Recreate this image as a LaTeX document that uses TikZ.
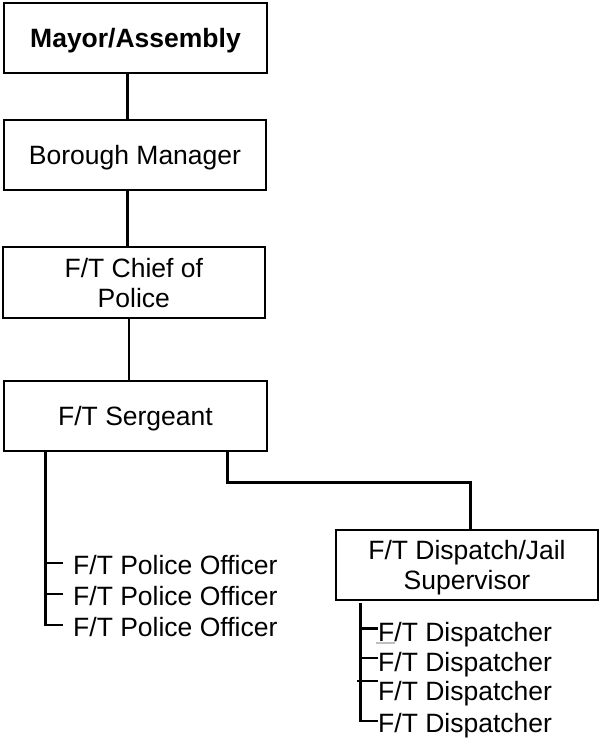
\documentclass[tikz,border=0pt]{standalone}
\usepackage{fontspec}
\setmainfont{Liberation Sans}
\begin{document}
\begin{tikzpicture}[x=1pt,y=-1pt,
  box/.style={draw=black, line width=1.7pt, rectangle, inner sep=0pt, align=center,
    text depth=0pt, minimum width=262pt, minimum height=70pt, font=\fontsize{26.5}{29.5}\selectfont},
  lbl/.style={inner sep=0pt, anchor=base west, font=\fontsize{26.5}{29.5}\selectfont},
  conn/.style={line width=3pt},
  thinconn/.style={line width=2pt},
  tick/.style={line width=2pt}]
\useasboundingbox (0,0) rectangle (599,742);
\node[box, minimum width=263pt] (mayor) at (135.5,38) {\textbf{Mayor/Assembly}};
\node[box] (borough) at (135,155) {Borough Manager};
\node[box, minimum height=71pt] (chief) at (133.8,282.8) {F/T Chief of\\Police};
\node[box, minimum width=263pt] (sergeant) at (135.5,416) {F/T Sergeant};
\node[box] (dispatch) at (467,565) {F/T Dispatch/Jail\\Supervisor};

\draw[conn] ([xshift=-8.2pt]mayor.south) -- ([xshift=-8.2pt]mayor.south |- borough.north);
\draw[conn] ([xshift=-7.7pt]borough.south) -- ([xshift=-7.7pt]borough.south |- chief.north);
\draw[thinconn] ([xshift=-4.8pt]chief.south) -- ([xshift=-4.8pt]chief.south |- sergeant.north);

% police officers
\node[lbl] (po1) at (73,574.5) {F/T Police Officer};
\node[lbl] (po2) at (73,605.5) {F/T Police Officer};
\node[lbl] (po3) at (73,636.5) {F/T Police Officer};
\coordinate (ps) at ([xshift=-89.8pt]sergeant.south);
\coordinate (pt1) at ([xshift=-10pt,yshift=12pt]po1.base west);
\coordinate (pt2) at ([xshift=-10pt,yshift=12pt]po2.base west);
\coordinate (pt3) at ([xshift=-10pt,yshift=12pt]po3.base west);
\draw[conn] (ps) -- (ps |- pt3);
\draw[tick] (pt1 -| ps) -- (pt1);
\draw[tick] (pt2 -| ps) -- (pt2);
\draw[tick] ([xshift=-1.5pt]pt3 -| ps) -- (pt3);

% sergeant to dispatch supervisor
\draw[conn] ([xshift=91.5pt]sergeant.south) -- ++(0,31) -| ([xshift=3pt]dispatch.north);

% dispatchers
\node[lbl] (d1) at (378,641.7) {F/T Dispatcher};
\node[lbl] (d2) at (378,671.7) {F/T Dispatcher};
\node[lbl] (d3) at (378,700.7) {F/T Dispatcher};
\node[lbl] (d4) at (378,732.7) {F/T Dispatcher};
\coordinate (ds) at ([xshift=-107pt,yshift=-2pt]dispatch.south);
\coordinate (dt1) at ([yshift=13.7pt]d1.base west);
\coordinate (dt2) at ([yshift=13.7pt]d2.base west);
\coordinate (dt3) at ([yshift=19.7pt]d3.base west);
\coordinate (dt4) at ([yshift=11.7pt]d4.base west);
\draw[conn] (ds) -- (ds |- dt4);
\draw[conn] (dt1 -| ds) -- (dt1);
\draw[tick] (dt2 -| ds) -- (dt2);
\draw[tick] ([xshift=-3pt]dt3 -| ds) -- (dt3);
\draw[tick] ([xshift=-1pt]dt4 -| ds) -- (dt4);
\draw[gray!50, line width=2pt] ([xshift=-2pt,yshift=-1.6pt]d1.base west) -- ++(19,0);
\end{tikzpicture}
\end{document}
